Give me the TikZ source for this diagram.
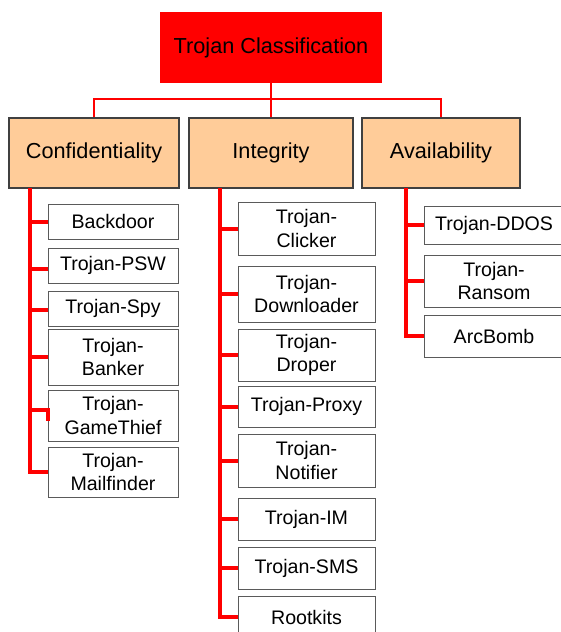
\documentclass[tikz,border=0pt]{standalone}
\usepackage{fontspec}
\setmainfont{Liberation Sans}
\usetikzlibrary{positioning}
\definecolor{peach}{HTML}{FFCC99}
\definecolor{boxgray}{HTML}{5A5A5A}

\begin{document}
\begin{tikzpicture}[x=1pt, y=-1pt,
    rootbox/.style={rectangle, fill=red, minimum width=222pt, minimum height=71pt,
      font=\fontsize{21.7}{26}\selectfont},
    catbox/.style={rectangle, draw=black!75, line width=1.2pt, fill=peach,
      minimum height=70pt, font=\fontsize{21.7}{26}\selectfont},
    leaf/.style={rectangle, draw=boxgray, line width=1pt, fill=white, align=center,
      inner sep=0pt, font=\fontsize{19.6}{23.4}\selectfont},
    confleaf/.style={leaf, minimum width=130pt},
    integleaf/.style={leaf, minimum width=137pt},
    availleaf/.style={leaf, minimum width=140pt},
    bus/.style={red, line width=2pt},
    trunk/.style={red, line width=4pt}]
  \useasboundingbox (0,0) rectangle (561,632);
  \clip (0,0) rectangle (561,632);

  % top level
  \node[rootbox] (root) at (271,47.5) {Trojan Classification};
  \node[catbox, minimum width=170pt] (conf) at (94,153) {Confidentiality};
  \node[catbox, minimum width=164pt] (integ) at (271,153) {Integrity};
  \node[catbox, minimum width=158pt] (avail) at (441,153) {Availability};
  \coordinate (split) at (271,99);
  \draw[bus] (root.south) -- (split);
  \draw[bus] (split) -| (conf.north);
  \draw[bus] (split) -- (integ.north);
  \draw[bus] (split) -| (avail.north);

  % confidentiality
  \node[confleaf, minimum height=35pt] (backdoor) at (113,221.5) {Backdoor};
  \node[confleaf, minimum height=35pt] (psw) at (113,265.5) {Trojan-PSW};
  \node[confleaf, minimum height=35pt] (spy) at (113,308.5) {Trojan-Spy};
  \node[confleaf, minimum height=56pt] (banker) at (113,357) {Trojan-\\Banker};
  \node[confleaf, minimum height=51pt] (game) at (113,415.5) {Trojan-\\GameThief};
  \node[confleaf, minimum height=50pt] (mail) at (113,472) {Trojan-\\Mailfinder};
  \coordinate (ct) at (30,188);
  \draw[trunk] (ct) |- (mail.west);
  \draw[trunk] (ct |- 0,222) -- (backdoor.west |- 0,222);
  \draw[trunk] (ct |- 0,269) -- (psw.west |- 0,269);
  \draw[trunk] (ct |- 0,310) -- (spy.west |- 0,310);
  \draw[trunk] (ct |- banker.west) -- (banker.west);
  \draw[trunk] (ct |- 0,410) -- (game.west |- 0,410) -- (game.west |- 0,421);

  % integrity
  \node[integleaf, minimum height=53pt] (clicker) at (306.5,228.5) {Trojan-\\Clicker};
  \node[integleaf, minimum height=56pt] (down) at (306.5,294) {Trojan-\\Downloader};
  \node[integleaf, minimum height=52pt] (droper) at (306.5,355) {Trojan-\\Droper};
  \node[integleaf, minimum height=41pt] (proxy) at (306.5,406.5) {Trojan-Proxy};
  \node[integleaf, minimum height=53pt] (notif) at (306.5,460.5) {Trojan-\\Notifier};
  \node[integleaf, minimum height=42pt] (im) at (306.5,519) {Trojan-IM};
  \node[integleaf, minimum height=42pt] (sms) at (306.5,568) {Trojan-SMS};
  \node[integleaf, minimum height=42pt] (rootkit) at (306.5,617) {Rootkits};
  \coordinate (it) at (220,188);
  \draw[trunk] (it) |- (rootkit.west);
  \foreach \n in {clicker,down,droper,proxy,notif,im,sms}
    \draw[trunk] (it |- \n.west) -- (\n.west);

  % availability
  \node[availleaf, minimum height=38pt] (ddos) at (494,225) {Trojan-DDOS};
  \node[availleaf, minimum height=52pt] (ransom) at (494,281) {Trojan-\\Ransom};
  \node[availleaf, minimum height=42pt] (arc) at (494,336) {ArcBomb};
  \coordinate (at) at (406,188);
  \draw[trunk] (at) |- (arc.west);
  \foreach \n in {ddos,ransom}
    \draw[trunk] (at |- \n.west) -- (\n.west);
\end{tikzpicture}
\end{document}
